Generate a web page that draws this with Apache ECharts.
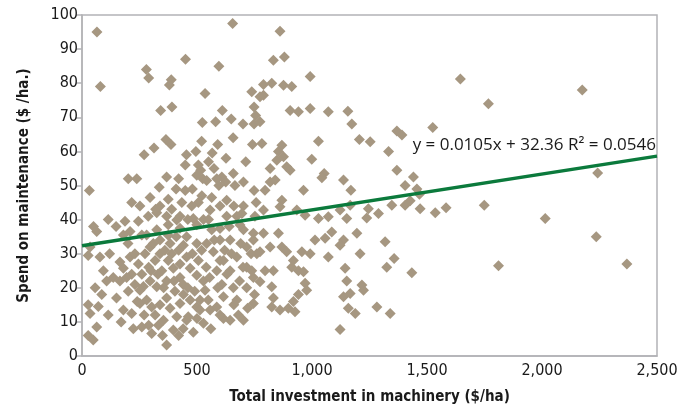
<!DOCTYPE html>
<html>
<head>
<meta charset="utf-8">
<script src="https://cdn.jsdelivr.net/npm/echarts@6/dist/echarts.min.js"></script>
<style>
  html, body { margin: 0; padding: 0; background: #fff; }
  #chart { width: 692px; height: 410px; }
</style>
</head>
<body>
<div id="chart"></div>
<script>
// total investment ($/ha) and maintenance spend ($/ha.)
var investment = [
  65, 80, 655, 450, 595, 280, 290, 388, 380, 535, 342, 391, 610, 523, 581, 649, 700, 657, 365, 387,
  313, 270, 454, 495, 566, 626, 449, 506, 516, 499, 574, 712, 658, 201, 238, 368, 608, 738, 748, 755,
  748, 741, 336, 409, 449, 525, 542, 586, 625, 595, 506, 564, 665, 702, 748, 757, 32, 216, 252, 296,
  339, 375, 434, 477, 390, 325, 368, 426, 528, 600, 629, 702, 673, 114, 50, 187, 245, 752, 148, 209,
  288, 260, 27, 78, 64, 325, 375, 426, 499, 564, 640, 702, 745, 180, 281, 35, 93, 57, 86, 107,
  136, 27, 71, 114, 64, 27, 49, 180, 216, 165, 230, 201, 180, 216, 223, 260, 303, 332, 368, 318,
  354, 397, 484, 455, 281, 303, 252, 267, 296, 325, 368, 347, 318, 274, 339, 375, 397, 426, 404, 368,
  339, 383, 426, 470, 441, 499, 462, 412, 426, 470, 455, 506, 499, 528, 535, 513, 549, 513, 557, 571,
  542, 600, 615, 586, 644, 673, 716, 745, 608, 658, 716, 615, 673, 745, 644, 702, 586, 165, 209, 339,
  383, 441, 499, 644, 716, 760, 745, 35, 789, 774, 905, 941, 992, 1071, 1156, 1173, 1206, 1253, 1369, 1391,
  1333, 782, 869, 854, 876, 847, 890, 905, 818, 1028, 999, 1053, 1043, 1137, 1169, 963, 818, 840, 796, 869,
  861, 789, 934, 970, 1028, 1071, 1122, 1166, 1151, 1245, 1289, 1347, 1369, 1405, 1441, 1456, 1405, 1470, 1467, 1427,
  861, 832, 880, 992, 789, 825, 876, 912, 774, 1645, 1767, 2175, 1525, 2242, 1536, 1583, 1749, 2014, 2236, 1811,
  2369, 1434, 695, 1238, 1195, 1137, 1086, 1057, 1013, 1122, 1071, 992, 956, 919, 941, 1209, 1318, 1357, 1325, 1144,
  1151, 1137, 1166, 1217, 1224, 1158, 1188, 1282, 1340, 1122, 789, 854, 869, 818, 774, 890, 912, 963, 738, 796,
  832, 774, 825, 970, 977, 941, 750, 832, 825, 861, 919, 897, 926, 521, 629, 557, 412, 484, 600, 687,
  375, 455, 296, 194, 252, 528, 615,
  230, 245, 260, 290, 310, 330, 355, 360, 390, 410, 420, 440, 460, 480, 490, 520, 540, 555, 575, 590,
  620, 630, 650, 660, 685, 690, 720, 735, 200, 240, 270, 290, 350, 420, 440, 500, 560, 600, 680, 150,
  120, 170, 320, 460, 550, 660, 480, 420, 550, 590, 520, 300, 400, 600, 700
];
var maintenance = [
  95, 79, 97.5, 87, 85, 84, 81.5, 81, 79.5, 77, 72, 73, 72, 68.5, 68.7, 69.5, 68, 64, 63.5, 62,
  61, 59, 59, 60, 59.5, 58, 56, 56, 54.5, 53, 55, 57, 53.5, 52, 52, 52.5, 52.5, 77.5, 73, 70.5,
  68, 62, 49.5, 49, 48.5, 52, 51.5, 52, 51, 50, 45, 46.5, 50, 51, 48.5, 45, 48.5, 45, 44, 46.5,
  44, 46, 45, 44, 43, 42, 41, 41, 40, 44, 41, 44, 41, 40, 38, 39.5, 39.5, 41, 38, 36.5,
  41, 35.5, 29.5, 29, 36.5, 37, 38.5, 37.5, 38.5, 37, 38, 37, 36, 35.5, 35.5, 32, 25, 20, 18, 22,
  23, 15, 14.5, 12, 8.5, 6, 4.7, 25.7, 24, 22, 21, 19, 13.5, 12.5, 8, 8.5, 6.6, 9, 3.2, 12,
  10.5, 7.6, 7, 10.5, 16.4, 14.4, 15.4, 20.4, 22, 20.3, 22, 25, 28, 30, 30, 28, 25.7, 23, 19, 17,
  15, 14, 15.4, 16.4, 18, 14.4, 11.5, 11.5, 27, 25.7, 29, 28, 23.7, 22, 19.3, 16.4, 16.4, 13.5, 13.5, 30.6,
  33, 34, 28, 25, 25, 29, 26, 23, 21, 20, 20, 17.4, 16.4, 15.4, 10.5, 10.5, 14.4, 27.6, 29, 34,
  33, 32.5, 33, 34, 32, 30, 34, 12.5, 76.5, 68.7, 72, 71.6, 72.6, 71.6, 71.8, 68, 63.5, 62.8, 66, 64.8,
  60, 62.3, 61.8, 60, 58.4, 57.4, 55.5, 54.5, 55, 63, 57.7, 53.5, 52.3, 51.6, 48.6, 48.6, 51, 51.6, 48.6, 45.7,
  43.8, 42.8, 42.8, 41.3, 40.3, 40.8, 42.8, 44.2, 40.3, 43.2, 41.8, 44.2, 54.5, 50, 52.5, 49, 44.2, 43.2, 47.4, 45.5,
  95.2, 86.7, 87.7, 82, 79.6, 80, 79.4, 79, 76, 81.2, 74, 78, 67, 53.7, 42, 43.5, 44.2, 40.3, 35, 26.5,
  27, 24.4, 41.8, 40.5, 36, 34, 36.4, 34.5, 34, 32.5, 29, 30, 30.6, 28, 25, 30, 33.5, 28.6, 26, 25.7,
  22, 17.4, 18.3, 20.8, 19.3, 14, 12.5, 14.4, 12.5, 7.8, 36, 36, 32, 32, 30.6, 30.6, 26, 24.7, 25, 25,
  25, 21.8, 20.3, 21.3, 19.3, 18, 18, 17, 14.4, 13.5, 16, 14, 13, 47, 45.7, 42.8, 39.9, 40.3, 37.4, 38.4,
  35.4, 35, 32, 23, 19.3, 9.6, 11,
  30, 27, 24, 26, 33, 24, 20, 31, 30, 35, 31, 21, 20, 30, 19, 31, 26, 23, 34, 20,
  31, 24, 30, 15, 22, 33, 14, 30, 33, 16, 12, 9, 6, 6, 8, 11, 8, 12, 12, 17,
  30, 10, 43, 40, 40, 44, 49, 52, 57, 62, 63, 25, 22, 28, 26
];
var xTicks = [0, 500, 1000, 1500, 2000, 2500];
var trendSlope = 0.0105;
var trendIntercept = 32.36;
var trendText = 'y = 0.0105x + 32.36 R\u00b2 = 0.0546';

var narrow = "'Liberation Sans Narrow', 'DejaVu Sans Condensed', 'Noto Sans', sans-serif";

function ScatterChart(divId) {
	var myChart = echarts.init(document.getElementById(divId));
	var points = [];
	for (var i = 0; i < investment.length; i++) {
		points.push([investment[i], maintenance[i]]);
	}
	var xMin = xTicks[0], xMax = xTicks[xTicks.length - 1];
	var trend = [
		[xMin, trendIntercept + trendSlope * xMin],
		[xMax, trendIntercept + trendSlope * xMax]
	];

	var option = {
		animation: false,
		grid: {
			left: 82, right: 35, top: 15, bottom: 54,
			show: true, borderColor: '#b3b3b6', borderWidth: 1.5
		},
		xAxis: {
			type: 'value', min: xMin, max: xMax, interval: 500,
			name: 'Total investment in machinery ($/ha)',
			nameLocation: 'middle', nameGap: 34,
			nameTextStyle: { fontFamily: narrow, fontSize: 15, fontWeight: 'bold', color: '#1a1a1a' },
			axisLine: { lineStyle: { color: '#b3b3b6', width: 1.5 } },
			axisTick: { show: false },
			splitLine: { show: false },
			axisLabel: {
				fontFamily: narrow, fontSize: 16, color: '#1a1a1a', margin: 7,
				formatter: function (v) { return v.toLocaleString('en-US'); }
			}
		},
		yAxis: {
			type: 'value', min: 0, max: 100, interval: 10,
			name: 'Spend on maintenance ($ /ha.)',
			nameLocation: 'middle', nameGap: 50,
			nameTextStyle: { fontFamily: narrow, fontSize: 15, fontWeight: 'bold', color: '#1a1a1a' },
			axisLine: { show: true, lineStyle: { color: '#b3b3b6', width: 1.5 } },
			axisTick: { show: true, length: 6, lineStyle: { color: '#b3b3b6', width: 1.5 } },
			splitLine: { show: false },
			axisLabel: { fontFamily: narrow, fontSize: 16, color: '#1a1a1a', margin: 4 }
		},
		graphic: [{
			type: 'text', right: 36, top: 137, z: 100,
			style: { text: trendText, fontFamily: "'Open Sans', 'Noto Sans', sans-serif", fontSize: 17, fill: '#1a1a1a' }
		}],
		series: [
			{
				type: 'scatter',
				symbol: 'diamond',
				symbolSize: 11,
				itemStyle: { color: '#a69781', opacity: 1 },
				data: points
			},
			{
				type: 'line',
				data: trend,
				symbol: 'none',
				z: 5,
				lineStyle: { color: '#0b7a3c', width: 3.5 }
			}
		]
	};
	myChart.setOption(option);
}

ScatterChart('chart');
</script>
</body>
</html>
